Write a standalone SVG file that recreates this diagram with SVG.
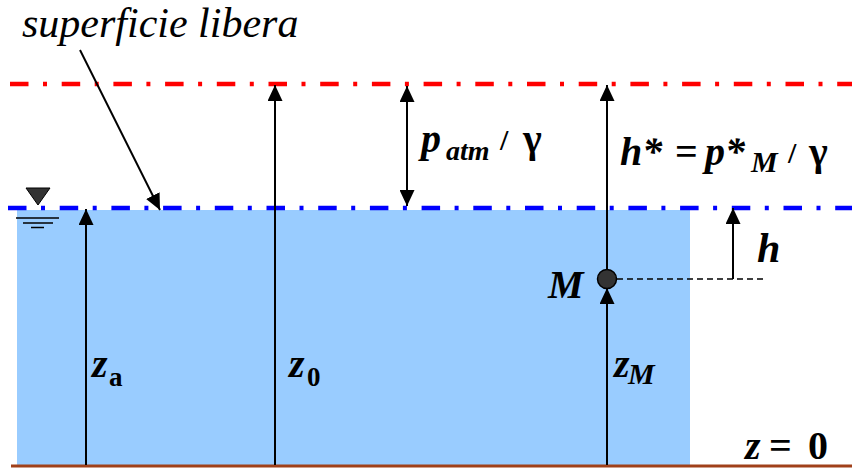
<svg xmlns="http://www.w3.org/2000/svg" width="852" height="468" viewBox="0 0 852 468">
<style>
.bi{font-weight:bold;font-style:italic}
.b{font-weight:bold}
.it{font-style:italic}
.arr{stroke:#000;stroke-width:2;fill:none}
.dd{stroke-width:4.5;stroke-dasharray:18.5 14.5 4 14.7;fill:none}
</style>
<defs>
<marker id="ah" viewBox="0 0 16 15" refX="16" refY="7.5" markerWidth="16" markerHeight="15" markerUnits="userSpaceOnUse" orient="auto-start-reverse">
<path d="M0,0 L16,7.5 L0,15 Z" fill="#000"/>
</marker>
</defs>
<rect width="852" height="468" fill="#fff"/>
<g id="water">
<rect x="17" y="210" width="673" height="255" fill="#99CCFF"/>
<line x1="11" y1="466" x2="852" y2="466" stroke="#A0401A" stroke-width="3"/>
</g>
<g id="lines">
<line class="dd" x1="10" y1="84" x2="852" y2="84" stroke="#FF0000"/>
<line class="dd" x1="8" y1="208" x2="852" y2="208" stroke="#0000FF"/>
</g>
<g id="surface-symbol">
<path d="M26,188 L50,188 L38,205 Z" fill="#333" stroke="#000" stroke-width="1"/>
<line x1="16" y1="218" x2="59" y2="218" stroke="#000" stroke-width="1.5"/>
<line x1="23" y1="223" x2="53" y2="223" stroke="#000" stroke-width="1.5"/>
<line x1="31" y1="227.5" x2="44" y2="227.5" stroke="#000" stroke-width="1.5"/>
</g>
<g id="connectors">
<line class="arr" x1="86" y1="465" x2="86" y2="209" marker-end="url(#ah)"/>
<line class="arr" x1="275" y1="465" x2="275" y2="85" marker-end="url(#ah)"/>
<line class="arr" x1="607" y1="270" x2="607" y2="85" marker-end="url(#ah)"/>
<line class="arr" x1="607" y1="465" x2="607" y2="288" marker-end="url(#ah)"/>
<line class="arr" x1="407" y1="86" x2="407" y2="206" marker-start="url(#ah)" marker-end="url(#ah)"/>
<line class="arr" x1="733" y1="279" x2="733" y2="208" marker-end="url(#ah)"/>
<line class="arr" x1="80" y1="50" x2="160" y2="210" marker-end="url(#ah)"/>
<line x1="617" y1="279" x2="763" y2="279" stroke="#000" stroke-width="1.5" stroke-dasharray="6 4"/>
</g>
<g font-family="Liberation Serif, Times New Roman, DejaVu Serif, serif" fill="#000">
<g id="point-M">
<circle cx="607" cy="279" r="9.5" fill="#333" stroke="#000" stroke-width="1.5"/>
<text class="bi" x="548" y="298" font-size="40">M</text>
</g>
<g id="label-superficie">
<text class="it" x="22" y="37" font-size="42">superficie libera</text>
</g>
<g id="label-patm">
<text class="bi" x="421" y="152" font-size="40">p</text>
<text class="bi" x="446" y="160" font-size="28">atm</text>
<text class="b" x="500" y="150" font-size="30">/</text>
<text class="b" x="523" y="152" font-size="40">γ</text>
</g>
<g id="label-hstar">
<text class="bi" x="620" y="165" font-size="40">h*</text>
<text class="b" x="675" y="165" font-size="40">=</text>
<text class="bi" x="705" y="165" font-size="40">p*</text>
<text class="bi" x="751" y="172" font-size="30">M</text>
<text class="b" x="788" y="163" font-size="30">/</text>
<text class="b" x="809" y="165" font-size="40">γ</text>
</g>
<g id="label-h">
<text class="bi" x="757" y="262" font-size="42">h</text>
</g>
<g id="label-za">
<text class="bi" x="92" y="377" font-size="40">z</text>
<text class="b" x="109" y="386" font-size="27">a</text>
</g>
<g id="label-z0">
<text class="bi" x="289" y="377" font-size="40">z</text>
<text class="b" x="307" y="386" font-size="27">0</text>
</g>
<g id="label-zM">
<text class="bi" x="614" y="377" font-size="40">z</text>
<text class="bi" x="628" y="384" font-size="30">M</text>
</g>
<g id="label-z0-ref">
<text class="bi" x="745" y="459" font-size="40">z</text>
<text class="b" x="769" y="459" font-size="40">=</text>
<text class="b" x="808" y="459" font-size="40">0</text>
</g>
</g>
</svg>
